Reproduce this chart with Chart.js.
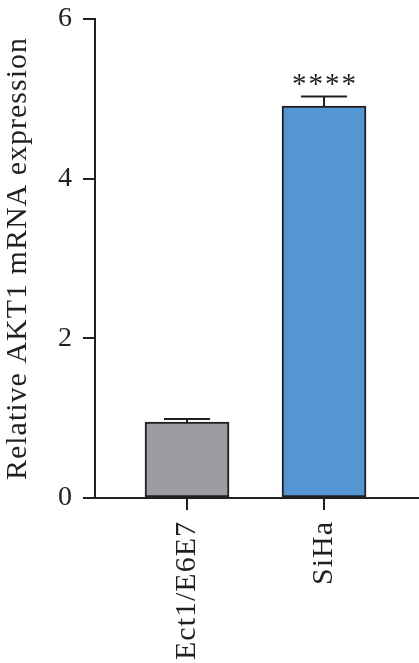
<!DOCTYPE html>
<html>
<head>
<meta charset="utf-8">
<script src="https://cdn.jsdelivr.net/npm/chart.js@4/dist/chart.umd.min.js"></script>
<style>
  html, body { margin: 0; padding: 0; background: #fff; }
  #wrap { width: 419px; height: 663px; }
</style>
</head>
<body>
<div id="wrap"><canvas id="c" width="419" height="663"></canvas></div>
<script>
const categories = ['Ect1/E6E7', 'SiHa'];
const values = [0.95, 4.91];
const errors = [0.04, 0.12];
const significance = ['', '****'];
const yTicks = [0, 2, 4, 6];
const barColors = ['#9a9ca1', '#5495d3'];
const yTitle = 'Relative AKT1 mRNA expression';

const FONT = "'Liberation Serif', 'Times New Roman', serif";
const INK = '#231f20';

const spacingPlugin = {
  id: 'spacing',
  beforeUpdate(chart) { chart.ctx.letterSpacing = '1px'; },
  beforeDraw(chart) { chart.ctx.letterSpacing = '1px'; }
};

const errorPlugin = {
  id: 'errors',
  afterDatasetsDraw(chart) {
    const ctx = chart.ctx;
    const xs = chart.scales.x, ys = chart.scales.y;
    ctx.save();
    ctx.strokeStyle = INK;
    ctx.lineWidth = 2;
    values.forEach((v, i) => {
      const x = xs.getPixelForValue(i + 1);
      const yTop = ys.getPixelForValue(v);
      const yErr = ys.getPixelForValue(v + errors[i]);
      ctx.beginPath();
      ctx.moveTo(x, yTop);
      ctx.lineTo(x, yErr);
      ctx.moveTo(x - 23, yErr);
      ctx.lineTo(x + 23, yErr);
      ctx.stroke();
      if (significance[i]) {
        ctx.fillStyle = INK;
        ctx.letterSpacing = '2px';
        ctx.font = '29px ' + FONT;
        ctx.textAlign = 'center';
        ctx.textBaseline = 'alphabetic';
        ctx.fillText(significance[i], x + 1, yErr - 3);
      }
    });
    ctx.restore();
  }
};

new Chart(document.getElementById('c'), {
  type: 'bar',
  data: {
    datasets: [{
      data: values.map((v, i) => ({ x: i + 1, y: v })),
      backgroundColor: barColors,
      borderColor: INK,
      borderWidth: 2,
      borderSkipped: false,
      barThickness: 84
    }]
  },
  options: {
    responsive: false,
    animation: false,
    devicePixelRatio: 1,
    layout: { padding: { top: 19, left: 0, right: 0, bottom: 0 } },
    plugins: { legend: { display: false }, tooltip: { enabled: false } },
    scales: {
      x: {
        type: 'linear',
        offset: false,
        min: 0.3285,
        max: 2.693,
        afterBuildTicks: (s) => { s.ticks = categories.map((c, i) => ({ value: i + 1 })); },
        afterFit: (s) => { s.height = 165; s.paddingLeft = 0; s.paddingRight = 0; },
        ticks: {
          autoSkip: false,
          maxRotation: 90,
          minRotation: 90,
          padding: 11,
          color: INK,
          font: { family: FONT, size: 30 },
          callback: (v) => categories[Math.round(v) - 1]
        },
        grid: { offset: false, drawOnChartArea: false, tickLength: 12, color: INK, lineWidth: 2 },
        border: { display: true, color: INK, width: 2 }
      },
      y: {
        min: 0,
        max: 6,
        afterBuildTicks: (s) => { s.ticks = yTicks.map(v => ({ value: v })); },
        afterFit: (s) => { s.width = 95; s.paddingTop = 0; s.paddingBottom = 0; },
        ticks: {
          padding: 10,
          color: INK,
          font: { family: FONT, size: 28 }
        },
        grid: { drawOnChartArea: false, tickLength: 12, color: INK, lineWidth: 2 },
        border: { display: true, color: INK, width: 2 },
        title: {
          display: true,
          text: yTitle,
          color: INK,
          font: { family: FONT, size: 30 },
          padding: { top: 0, bottom: 0 }
        }
      }
    }
  },
  plugins: [spacingPlugin, errorPlugin]
});
</script>
</body>
</html>
